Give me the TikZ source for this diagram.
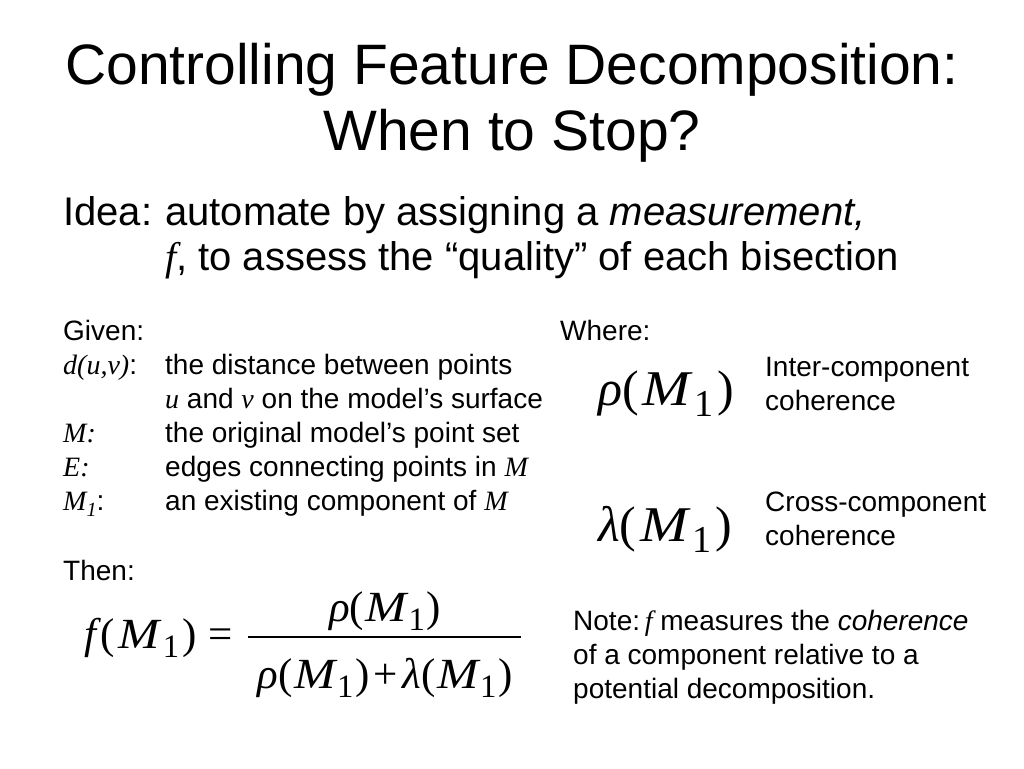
\documentclass[tikz,border=0pt]{standalone}
\usepackage{fontspec}
\setmainfont{Liberation Sans}
\newfontfamily\tms{Liberation Serif}
\newcommand{\mi}[1]{{\tms\itshape #1}}
\newcommand{\sbo}{\raisebox{-0.22em}{\scalebox{0.76}{\tms 1}}}
\newcommand{\sbi}{\raisebox{-0.22em}{\scalebox{0.72}{\tms\itshape 1}}}
\newcommand{\wM}{\scalebox{1.15}[1]{\itshape M}}
% \fM{greek}{kern}
\newcommand{\fM}[2]{{\itshape #1\upshape(\kern#2\wM\kern#2\sbo\kern#2)}}
\begin{document}
\begin{tikzpicture}[x=1pt,y=-1pt,
  ttl/.style={anchor=base,inner sep=0pt,font=\fontsize{57}{64}\selectfont},
  idea/.style={anchor=base west,inner sep=0pt,font=\fontsize{40}{46}\selectfont},
  body/.style={anchor=base west,inner sep=0pt,font=\fontsize{28}{32}\selectfont},
  fml/.style={inner sep=0pt,font=\fontsize{43}{48}\selectfont\tms},
  big/.style={anchor=base west,inner sep=0pt,font=\fontsize{50}{56}\selectfont\tms}]
\useasboundingbox (0,0) rectangle (1024,768);
\fill[white] (0,0) rectangle (1024,768);
% title
\node[ttl] (t1) at (512,84) {Controlling Feature Decomposition:};
\node[ttl] (t2) at (512,150) {When to Stop?};
% idea
\node[idea] (i0) at (63,225) {Idea:};
\node[idea] (i1) at (165,225) {automate by assigning a \textit{measurement,}};
\node[idea] (i2) at (165,270) {\mi{f}, to assess the “quality” of each bisection};
% given
\node[body] (g0) at (63,340) {Given:};
\node[body] (g1l) at (63,374) {\mi{d(u,v)}:};
\node[body] (g1r) at (165,374) {the distance between points};
\node[body] (g2r) at (165,408) {\mi{u} and \mi{v} on the model’s surface};
\node[body] (g3l) at (63,442) {\mi{M:}};
\node[body] (g3r) at (165,442) {the original model’s point set};
\node[body] (g4l) at (63,476) {\mi{E:}};
\node[body] (g4r) at (165,476) {edges connecting points in \mi{M}};
\node[body] (g5l) at (63,510) {\mi{M}\sbi:};
\node[body] (g5r) at (165,510) {an existing component of \mi{M}};
\node[body] (then) at (63,580) {Then:};
% formula
\node[fml,anchor=base west] (lhs) at (84,648) {\itshape f\upshape\kern0.1em(\kern0.08em\wM\kern0.08em\sbo\kern0.08em)\kern0.28em=};
\coordinate (barL) at (248,637);
\coordinate (barR) at (521,637);
\draw[line width=1.6pt] (barL) -- (barR);
\node[fml,anchor=base] (num) at (385,621) {\fM{ρ}{0.04em}};
\node[fml,anchor=base] (den) at (385,688) {\fM{ρ}{0.04em}\kern0.1em+\kern0.1em\fM{λ}{0.04em}};
% where
\node[body] (w0) at (560,340) {Where:};
\node[big] (rho) at (598,405) {\fM{ρ}{0.08em}};
\node[body] (r1) at (765,376) {Inter-component};
\node[body] (r2) at (765,410) {coherence};
\node[big] (lam) at (598,541) {\fM{λ}{0.08em}};
\node[body] (l1) at (765,511) {Cross-component};
\node[body] (l2) at (765,545) {coherence};
% note
\node[body] (n1) at (573,630) {Note:\,\mi{f} measures the \textit{coherence}};
\node[body] (n2) at (573,664) {of a component relative to a};
\node[body] (n3) at (573,698) {potential decomposition.};
\end{tikzpicture}
\end{document}
